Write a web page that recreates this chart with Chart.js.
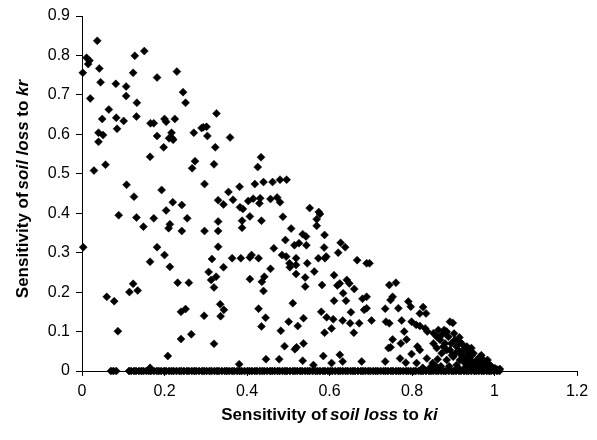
<!DOCTYPE html>
<html>
<head>
<meta charset="utf-8">
<script src="https://cdn.jsdelivr.net/npm/chart.js@4/dist/chart.umd.min.js"></script>
<style>
  html, body { margin: 0; padding: 0; background: #fff; }
  #wrap { width: 597px; height: 440px; position: relative; }
</style>
</head>
<body>
<div id="wrap"><canvas id="c" width="597" height="440"></canvas></div>
<script>
// Sensitivity of soil loss to ki (x) and to kr (y), points above zero
const kiValues = [
  0.037,0.011,0.018,0.015,0.002,0.042,0.045,0.020,0.065,0.049,0.040,0.051,0.083,0.085,0.101,0.082,0.107,0.107,0.133,0.132,
  0.128,0.151,0.124,0.182,0.230,0.245,0.251,0.166,0.174,0.200,0.204,0.225,0.182,0.217,0.211,0.219,0.271,0.290,
  0.326,0.294,0.302,0.304,0.359,
  0.040,0.221,0.198,0.165,0.274,0.267,0.029,0.057,0.108,0.126,0.193,0.220,0.242,0.204,0.089,0.132,0.174,0.149,0.213,0.210,
  0.255,0.242,0.297,0.297,0.003,0.182,0.200,0.165,
  0.323,0.320,0.434,0.426,0.382,0.419,0.440,0.462,0.480,0.496,0.355,0.330,0.343,0.366,0.383,0.390,0.403,0.415,0.432,0.430,
  0.457,0.473,0.480,0.552,0.574,0.569,0.569,0.388,0.388,0.407,0.435,0.487,0.330,0.330,0.330,0.507,0.535,0.543,0.493,0.515,
  0.526,0.544,0.588,0.587,0.465,
  0.315,0.364,0.385,0.411,0.428,0.485,0.495,0.519,0.573,0.589,
  0.343,0.407,0.546,0.307,0.325,0.313,0.320,0.407,0.442,0.436,0.457,0.503,0.519,0.504,0.519,0.541,0.563,0.541,0.440,0.582,
  0.335,0.344,0.336,0.296,0.428,0.445,0.435,0.511,0.501,0.523,0.537,0.482,0.580,0.593,0.588,0.320,0.491,0.520,0.516,0.537,
  0.446,0.478,0.535,0.585,0.381,0.561,
  0.213,0.232,0.259,0.124,0.115,0.135,0.060,0.078,0.087,0.240,0.251,0.240,0.265,0.208,0.165,
  0.621,0.667,0.690,0.697,0.611,0.625,0.642,0.648,0.619,0.633,0.660,0.611,0.640,0.745,0.761,0.680,0.690,0.690,0.684,0.753,
  0.748,0.652,0.609,0.632,0.650,0.672,0.702,0.659,0.735,0.737,0.745,0.791,0.797,0.767,0.775,0.827,0.834,0.819,0.799,0.810,
  0.819,0.832,0.837,0.852,0.864,0.872,0.882,0.781,0.753,0.773,0.787,0.748,0.743,0.813,0.819,0.836,0.811,0.852,0.860,0.872,
  0.884,0.868,0.860,0.605,0.625,0.632,0.605,0.678,0.735,0.771,0.785,0.799,0.892,
  0.577,0.627,0.638,0.592,
  0.899,0.878,0.884,0.916,0.933,0.949,0.965,0.973,0.989,1.001,1.013,0.876,0.892,0.900,0.916,0.928,0.941,0.953,0.908,0.924,
  0.941,0.957,0.981,0.904,0.888,0.884,0.908,0.895,0.920,0.935,0.960,0.970,0.945,0.897,0.862,0.850,
  0.905,0.915,0.925,0.935,0.945,0.955,0.965,0.975,0.985,0.995,0.912,0.930,0.950,0.890,0.870,0.880,0.915,0.858,0.845,0.826,
  0.938,0.962,0.978,0.992,1.006,0.902,0.922,0.944,0.968,0.983
];
const krValues = [
  0.837,0.794,0.787,0.778,0.756,0.767,0.732,0.691,0.663,0.639,0.604,0.598,0.642,0.614,0.634,0.728,0.721,0.697,0.680,0.645,
  0.799,0.811,0.756,0.744,0.759,0.707,0.680,0.628,0.628,0.639,0.632,0.639,0.596,0.604,0.590,0.590,0.604,0.616,
  0.653,0.618,0.619,0.596,0.592,
  0.581,0.586,0.567,0.543,0.532,0.514,0.508,0.523,0.472,0.442,0.459,0.428,0.421,0.407,0.395,0.389,0.387,0.366,0.372,0.362,
  0.387,0.355,0.474,0.355,0.314,0.314,0.294,0.277,
  0.567,0.524,0.542,0.517,0.467,0.474,0.479,0.479,0.485,0.485,0.454,0.433,0.422,0.434,0.415,0.411,0.431,0.437,0.438,0.425,
  0.436,0.440,0.428,0.413,0.403,0.385,0.368,0.381,0.363,0.392,0.381,0.391,0.379,0.355,0.315,0.361,0.347,0.341,0.332,0.319,
  0.324,0.319,0.345,0.313,0.311,
  0.284,0.286,0.286,0.294,0.286,0.294,0.290,0.286,0.286,0.286,
  0.263,0.288,0.273,0.251,0.239,0.231,0.212,0.233,0.239,0.226,0.259,0.273,0.269,0.263,0.246,0.237,0.252,0.214,0.203,0.218,
  0.169,0.155,0.139,0.140,0.158,0.135,0.113,0.172,0.125,0.114,0.134,0.102,0.150,0.136,0.097,0.069,0.063,0.060,0.055,0.070,
  0.030,0.030,0.026,0.038,0.017,0.015,
  0.264,0.224,0.224,0.221,0.200,0.204,0.188,0.177,0.101,0.150,0.157,0.081,0.093,0.038,0.008,
  0.300,0.281,0.273,0.273,0.243,0.222,0.231,0.222,0.217,0.197,0.208,0.178,0.178,0.218,0.224,0.183,0.188,0.159,0.155,0.188,
  0.180,0.149,0.131,0.128,0.121,0.121,0.128,0.097,0.158,0.125,0.121,0.176,0.163,0.159,0.128,0.162,0.146,0.146,0.125,0.117,
  0.114,0.108,0.100,0.096,0.104,0.091,0.097,0.100,0.080,0.070,0.080,0.060,0.058,0.062,0.053,0.032,0.020,0.070,0.058,0.045,
  0.053,0.079,0.087,0.108,0.041,0.024,0.020,0.024,0.024,0.032,0.021,0.043,0.125,
  0.398,0.325,0.314,0.290,
  0.122,0.104,0.100,0.074,0.062,0.045,0.036,0.028,0.015,0.007,0.005,0.062,0.053,0.036,0.028,0.020,0.015,0.011,0.062,0.053,
  0.036,0.028,0.020,0.079,0.087,0.028,0.015,0.070,0.040,0.045,0.018,0.010,0.025,0.040,0.030,0.020,
  0.045,0.050,0.035,0.030,0.040,0.022,0.025,0.015,0.010,0.005,0.008,0.010,0.005,0.012,0.012,0.070,0.085,0.012,0.010,0.008,
  0.052,0.032,0.022,0.012,0.004,0.095,0.068,0.058,0.040,0.028
];
// ki values of the points lying on kr = 0
const kiZeroRow = [
  0.070,0.076,0.083,
  0.114,0.119,0.126,0.131,0.138,0.144,0.149,0.156,0.162,0.167,0.174,0.181,0.186,0.192,0.199,0.204,0.211,0.217,0.222,0.229,
  0.236,0.241,0.247,0.254,0.259,0.266,0.272,0.277,0.284,0.291,0.296,0.302,0.309,0.314,0.321,0.327,0.332,0.339,0.346,0.351,
  0.357,0.364,0.369,0.376,0.382,0.387,0.394,0.401,0.406,0.412,0.419,0.424,0.431,0.437,0.442,0.449,0.456,0.461,0.467,0.474,
  0.479,0.486,0.492,0.497,0.504,0.511,0.516,0.522,0.529,0.534,0.541,0.547,0.552,0.559,0.566,0.571,0.577,0.584,0.589,0.596,
  0.602,0.607,0.614,0.621,0.626,0.632,0.639,0.644,0.651,0.657,0.662,0.669,0.676,0.681,0.687,0.694,0.699,0.706,0.712,0.717,
  0.724,0.731,0.736,0.742,0.749,0.754,0.761,0.767,0.772,0.779,0.786,0.791,0.797,0.804,0.809,0.816,0.822,0.827,0.834,0.841,
  0.846,0.852,0.859,0.864,0.871,0.877,0.882,0.889,0.896,0.901,0.907,0.914,0.919,0.926,0.932,0.937,0.944,0.951,0.956,0.962,
  0.969,0.974,0.981,0.987,0.992,0.999,1.006,1.012
];
const xTicks = [0, 0.2, 0.4, 0.6, 0.8, 1, 1.2];
const yTicks = [0, 0.1, 0.2, 0.3, 0.4, 0.5, 0.6, 0.7, 0.8, 0.9];
const xTitleParts = [["Sensitivity of", false], ["soil loss", true], [" to ", false], ["ki", true]];
const yTitleParts = [["Sensitivity of", false], ["soil loss", true], [" to ", false], ["kr", true]];

const points = [];
for (let i = 0; i < kiValues.length; i++) points.push({x: kiValues[i], y: krValues[i]});
for (let i = 0; i < kiZeroRow.length; i++) points.push({x: kiZeroRow[i], y: 0});

const FONT = "'Liberation Sans', Arial, Helvetica, sans-serif";

function drawParts(ctx, parts, cx, cy, size) {
  const fonts = parts.map(p => (p[1] ? "italic bold " : "bold ") + size + "px " + FONT);
  const gap = 3;
  let widths = parts.map((p, i) => { ctx.font = fonts[i]; return ctx.measureText(p[0]).width; });
  let total = widths.reduce((a, b) => a + b, 0) + gap;
  let x = cx - total / 2;
  ctx.textBaseline = "middle";
  ctx.textAlign = "left";
  ctx.fillStyle = "#000";
  parts.forEach((p, i) => {
    ctx.font = fonts[i];
    ctx.fillText(p[0], x, cy);
    x += widths[i] + (i === 0 ? gap : 0);
  });
}

const titlePlugin = {
  id: 'mixedTitles',
  afterDraw(chart) {
    const ctx = chart.ctx;
    const a = chart.chartArea;
    ctx.save();
    drawParts(ctx, xTitleParts, (a.left + a.right) / 2, 415, 17);
    ctx.translate(23, 189);
    ctx.rotate(-Math.PI / 2);
    drawParts(ctx, yTitleParts, 0, 0, 17);
    ctx.restore();
  }
};

new Chart(document.getElementById('c'), {
  type: 'scatter',
  data: {
    datasets: [{
      data: points,
      clip: false,
      pointStyle: 'rectRot',
      pointRadius: 4,
      pointBorderWidth: 0.5,
      backgroundColor: '#000',
      borderColor: '#000'
    }]
  },
  options: {
    responsive: false,
    animation: false,
    events: [],
    layout: { padding: { left: 0, right: 20, top: 16, bottom: 0 } },
    plugins: { legend: { display: false }, tooltip: { enabled: false } },
    scales: {
      x: {
        type: 'linear',
        min: 0, max: 1.2,
        afterBuildTicks(scale) { scale.ticks = xTicks.map(v => ({value: v})); },
        afterFit(scale) { scale.height = 69; },
        grid: { display: true, drawOnChartArea: false, drawTicks: true, tickLength: 5, color: '#000', lineWidth: 1 },
        border: { display: true, color: '#000', width: 1 },
        ticks: { color: '#000', font: { family: FONT, size: 16 }, padding: 6, maxRotation: 0,
                 callback: v => String(v) }
      },
      y: {
        type: 'linear',
        min: 0, max: 0.9,
        afterBuildTicks(scale) { scale.ticks = yTicks.map(v => ({value: v})); },
        afterFit(scale) { scale.width = 82; },
        grid: { display: true, drawOnChartArea: false, drawTicks: true, tickLength: 6, color: '#000', lineWidth: 1 },
        border: { display: true, color: '#000', width: 1 },
        ticks: { color: '#000', font: { family: FONT, size: 16 }, padding: 6,
                 callback: v => String(v) }
      }
    }
  },
  plugins: [titlePlugin]
});
</script>
</body>
</html>
